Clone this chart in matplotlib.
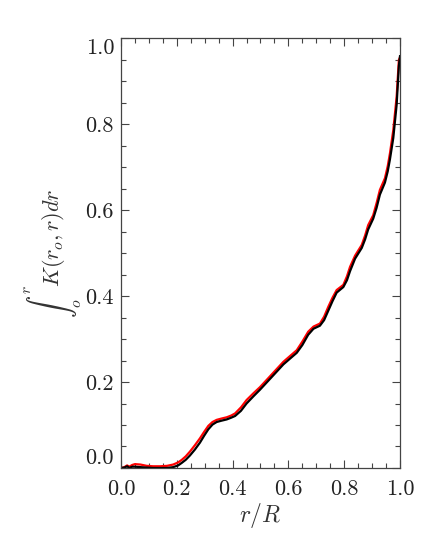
"""
Kernel integral vs r/R
"""

import matplotlib
matplotlib.use('Agg')
import matplotlib.pyplot as plt
from matplotlib.ticker import MultipleLocator, FormatStrFormatter

plt.rcParams['font.family'] = 'serif'
plt.rcParams['font.serif'] = ['cmr10']
plt.rcParams['mathtext.fontset'] = 'cm'
plt.rcParams['axes.formatter.use_mathtext'] = True

# okunan degerler
r_red = [0.000, 0.012, 0.022, 0.030, 0.040, 0.050, 0.070, 0.092, 0.115, 0.140,
         0.165, 0.187, 0.205, 0.218, 0.232, 0.247, 0.265, 0.283, 0.298, 0.313,
         0.328, 0.343, 0.360, 0.379, 0.395, 0.409, 0.430, 0.450, 0.475, 0.498,
         0.528, 0.555, 0.582, 0.605, 0.630, 0.650, 0.671, 0.690, 0.713, 0.728,
         0.743, 0.758, 0.773, 0.797, 0.810, 0.821, 0.839, 0.863, 0.875, 0.886,
         0.904, 0.916, 0.928, 0.946, 0.956, 0.964, 0.976, 0.988, 0.996, 1.000]
k_red = [0.000, 0.002, 0.006, 0.003, 0.007, 0.009, 0.008, 0.005, 0.004, 0.004,
         0.005, 0.008, 0.013, 0.019, 0.027, 0.038, 0.053, 0.069, 0.084, 0.098,
         0.107, 0.112, 0.115, 0.118, 0.122, 0.127, 0.141, 0.158, 0.174, 0.188,
         0.209, 0.228, 0.247, 0.260, 0.274, 0.294, 0.317, 0.329, 0.336, 0.352,
         0.375, 0.396, 0.414, 0.426, 0.446, 0.468, 0.494, 0.519, 0.541, 0.565,
         0.588, 0.616, 0.647, 0.674, 0.702, 0.732, 0.786, 0.864, 0.949, 0.955]

r_black = r_red
k_black = [0.000, 0.001, 0.004, 0.000, 0.003, 0.003, 0.002, 0.001, 0.000, 0.000,
           0.000, 0.002, 0.006, 0.012, 0.019, 0.029, 0.043, 0.059, 0.075, 0.090,
           0.101, 0.107, 0.110, 0.113, 0.117, 0.121, 0.133, 0.150, 0.167, 0.182,
           0.203, 0.222, 0.241, 0.254, 0.268, 0.286, 0.310, 0.324, 0.331, 0.344,
           0.366, 0.388, 0.408, 0.421, 0.437, 0.458, 0.487, 0.512, 0.532, 0.555,
           0.580, 0.605, 0.636, 0.664, 0.690, 0.718, 0.768, 0.845, 0.935, 0.958]

ticks = [0.0, 0.2, 0.4, 0.6, 0.8, 1.0]

fig = plt.figure(figsize=(4.36, 5.45), dpi=100)
ax = fig.add_axes([0.2775, 0.1413, 0.6399, 0.7887])

ax.plot(r_red, k_red, color='red', linewidth=1.6)
ax.plot(r_black, k_black, color='black', linewidth=1.6)

ax.set_xlim(0, 1.0)
ax.set_ylim(0, 1.0)
ax.set_xticks(ticks)
ax.set_yticks(ticks)
ax.xaxis.set_minor_locator(MultipleLocator(0.05))
ax.yaxis.set_minor_locator(MultipleLocator(0.05))
ax.xaxis.set_major_formatter(FormatStrFormatter('%.1f'))
ax.yaxis.set_major_formatter(FormatStrFormatter('%.1f'))

ax.tick_params(which='both', direction='in', top=True, right=True,
               color='#444444', labelsize=16, labelcolor='#222222')
ax.tick_params(which='major', length=6, width=0.8)
ax.tick_params(which='minor', length=3.5, width=0.8)
ax.tick_params(axis='x', pad=8)
ax.tick_params(axis='y', pad=5)
for sp in ax.spines.values():
    sp.set_color('#444444')
    sp.set_linewidth(0.9)

# IDL gibi: uc etiketler eksen icinde kalsin
yt = ax.yaxis.get_major_ticks()
yt[0].label1.set_va('bottom')
yt[-1].label1.set_va('top')

ax.set_xlabel(r'$r/R$', fontsize=17, color='#333333', labelpad=2)
ax.set_ylabel(r'$\int_o^r K(r_o,r)dr$', fontsize=16, color='#333333', labelpad=2)

fig.savefig('out.png', dpi=100)
